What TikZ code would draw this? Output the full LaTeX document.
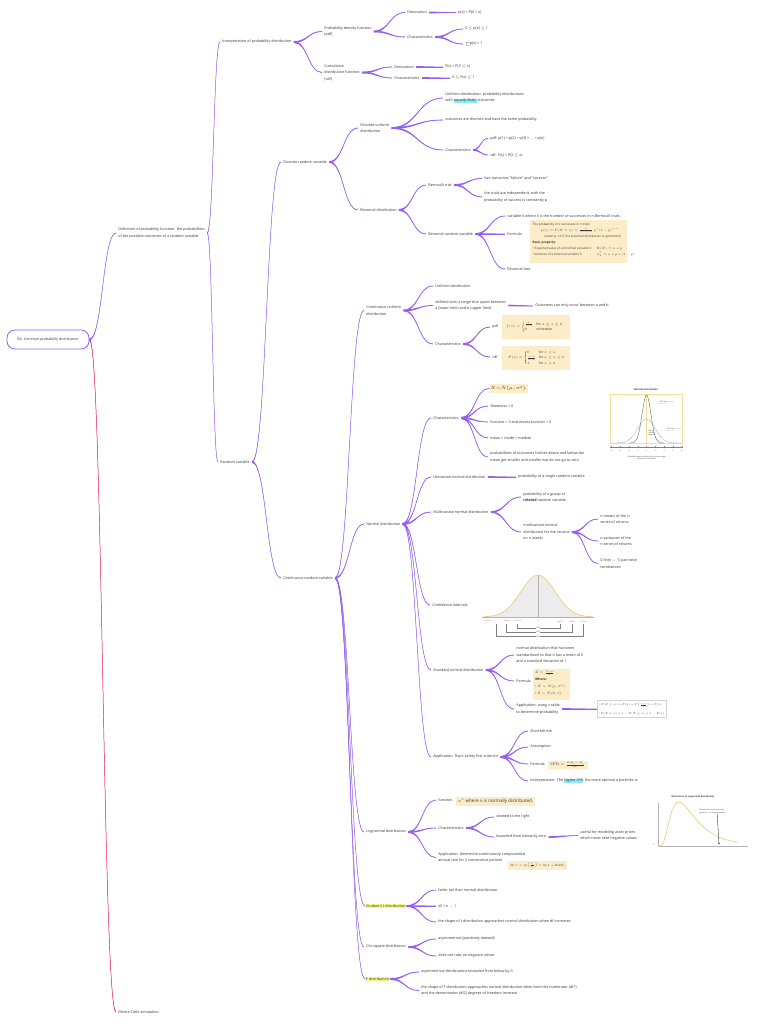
\RequirePackage{fix-cm}
\documentclass[tikz,border=0pt]{standalone}
\usepackage{amsmath}
\usepackage[no-math]{fontspec}
\setmainfont{Open Sans}
\usetikzlibrary{calc,arrows.meta}
\definecolor{brc}{RGB}{150,95,240}
\definecolor{brred}{RGB}{225,30,85}
\definecolor{txt}{RGB}{55,55,55}
\definecolor{beige}{RGB}{253,236,200}
\definecolor{hlcyan}{RGB}{140,235,250}
\definecolor{hlyel}{RGB}{248,248,130}
\definecolor{curveor}{RGB}{240,200,110}
\definecolor{figy}{RGB}{245,225,150}
\newcommand\fs{\fontsize{3.7}{6.4}\selectfont}
\newcommand\hlc[1]{{\setlength{\fboxsep}{0.4pt}\colorbox{hlcyan}{#1}}}
\newcommand\brch[3][brc]{%
 \fill[#1] let \p1=(#2.east), \p2=(#3.west), \p3=($(\p1)!0.5!(\p2)$) in
  (\x1,\y1+0.9pt) .. controls (\x3,\y1+0.9pt) and (\x3,\y2+0.3pt) .. (\x2,\y2+0.3pt)
  -- (\x2,\y2-0.3pt) .. controls (\x3,\y2-0.3pt) and (\x3,\y1-0.9pt) .. (\x1,\y1-0.9pt) -- cycle;
 \draw[#1,line width=0.45pt] let \p1=(#2.east), \p2=(#3.west), \p3=($(\p1)!0.5!(\p2)$) in
  (\p1) .. controls (\x3,\y1) and (\x3,\y2) .. (\p2);}
\begin{document}
\begin{tikzpicture}[x=1pt,y=-1pt,
 t/.style={anchor=west,inner xsep=2.2pt,inner ysep=0.6pt,align=left,font=\fs,text=txt},
 fb/.style={fill=beige,draw=none,anchor=north west,inner sep=0pt},
 fig/.style={font=\fontsize{1.8}{2.2}\selectfont,text=txt,inner sep=0pt}]
\fill[white] (0,0) rectangle (768,1024);
\useasboundingbox (0,0) rectangle (768,1024);

% ---------- nodes ----------
\node[draw=brc,line width=0.8pt,rounded corners=8pt,minimum width=82pt,minimum height=19pt,font=\fontsize{3.6}{4}\selectfont,text=txt] (root) at (48,339.5) {R4: Common probability distribution};
\node[t] (def) at (116,233) {Definition of probability function: the probabilities\\of the possible outcomes of a random variable};
\node[t] (mc) at (116,1012) {Monte Carlo simulation};
\node[t] (interp) at (220,42) {Interpretation of probability distribution};
\node[t] (rv) at (218,462) {Random variable};

\node[t] (pdf) at (322,31.5) {Probability density function\\(pdf)};
\node[t] (cdf) at (322,72.5) {Cumulative\\distribution function\\(cdf)};
\node[t] (pdfden) at (405,12.5) {Denotation};
\node[t] (pdfdenv) at (456,12.5) {p(x) = P(X = x)};
\node[t] (pdfchar) at (405,37) {Characteristics};
\node[t] (pdfc1) at (463,29) {0 $\le$ p(x) $\le$ 1};
\node[t] (pdfc2) at (463,44) {$\sum$p(x) = 1};
\node[t] (cdfden) at (392,67) {Denotation};
\node[t] (cdfdenv) at (443,67) {F(x) = P(X $\le$ x)};
\node[t] (cdfchar) at (392,78) {Characteristics};
\node[t] (cdfc1) at (450,78) {0 $\le$ F(x) $\le$ 1};

\node[t] (drv) at (281,162) {Discrete random variable};
\node[t] (dud) at (358,128) {Discrete uniform\\distribution};
\node[t] (binom) at (358,210) {Binomial distribution};
\node[t] (dud1) at (443,98) {Uniform distribution: probability distributions\\with \hlc{equally likely} outcomes};
\node[t] (dud2) at (443,120) {outcomes are discrete and have the same probability};
\node[t] (dudch) at (443,150) {Characteristics};
\node[t] (dudpdf) at (488,138.5) {pdf: p(1) = p(2) = p(3) = ... = p(n)};
\node[t] (dudcdf) at (488,155) {cdf: F(x) = P(X $\le$ x)};
\node[t] (bern) at (426,185) {Bernoulli trial};
\node[t] (bern1) at (482,178.5) {two outcomes "failure" and "success"};
\node[t] (bern2) at (482,197) {the trials are independent, with the\\probability of success is constantly p};
\node[t] (brv) at (426,234) {Binomial random variable};
\node[t] (brv1) at (505,216) {variable X where X is the number of successes in n Bernoulli trials};
\node[t] (brvf) at (505,234) {Formula};
\node[t] (brvt) at (505,269) {Binomial tree};
\node[fb,minimum width=97pt,minimum height=43pt] (binbox) at (530,220) {};
\node[anchor=north west,inner sep=0pt,align=left,font=\fontsize{3.1}{6}\selectfont,text=txt] (bintxt) at (532.5,222.5) {The probability of x successes in n trials:\\
\hspace*{8pt}$p(x)=P(X=x)=\frac{n!}{(n-x)!\,x!}\,p^x(1-p)^{n-x}$\\
\hspace*{12pt}(when p = 0.5, the binomial distribution is symmetric)\\
\textbf{Basic property:}\\
\makebox[64pt][l]{• Expected value of a binomial variable X:}$E(X)=n*p$\\
\makebox[64pt][l]{• Variance of a binomial variable X:}$\sigma_X^2=n*p*(1-p)$};

\node[t] (crv) at (281,578) {Continuous random variable};
\node[t] (cud) at (364,310.5) {Continuous uniform\\distribution};
\node[t] (cud1) at (433,286) {Uniform distribution};
\node[t] (cud2) at (433,305.5) {defined over a range that spans between\\a (lower limit) and b (upper limit)};
\node[t] (cud2a) at (533,306) {Outcomes can only occur between a and b};
\node[t] (cudch) at (433,344) {Characteristics};
\node[t] (cudpdf) at (490,327) {pdf};
\node[t] (cudcdf) at (490,357) {cdf};
\node[fb,minimum width=68pt,minimum height=24pt] (cupbox) at (502,315) {};
\node[anchor=west,inner sep=0pt,font=\fontsize{3.4}{4.2}\selectfont,text=txt] (cuptxt) at (506,327) {$f(x)=\begin{cases}\frac{1}{b-a} & \text{for } a\le x\le b\\ 0 & \text{otherwise}\end{cases}$};
\node[fb,minimum width=68pt,minimum height=24pt] (cucbox) at (502,346) {};
\node[anchor=west,inner sep=0pt,font=\fontsize{3.3}{4}\selectfont,text=txt] (cuctxt) at (508,358) {$F(x)=\begin{cases}0 & \text{for } x<a\\ \frac{x-a}{b-a} & \text{for } a\le x\le b\\ 1 & \text{for } x>b\end{cases}$};

\node[t] (normal) at (364,524) {Normal distribution};
\node[t] (nch) at (431,418) {Characteristics};
\node[anchor=west,fill=beige,inner xsep=1.5pt,inner ysep=1.5pt,font=\fontsize{4.6}{6}\selectfont,text=txt] (nch0) at (489,388.5) {$X{\sim}N(\mu,\sigma^2)$.};
\node[t] (nch1) at (488,406) {Skewness = 0};
\node[t] (nch2) at (488,422) {Kurtosis = 3 and excess kurtosis = 0};
\node[t] (nch3) at (488,438) {mean = mode = median};
\node[t] (nch4) at (488,457) {probabilities of outcomes further above and below the\\mean get smaller and smaller but do not go to zero};
\node[t] (uni) at (431,477) {Univariate normal distribution};
\node[t] (uni1) at (516,477) {probability of a single random variable};
\node[t] (multi) at (431,512) {Multivariate normal distribution};
\node[t] (multi1) at (521,497) {probability of a group of\\\textbf{related} random variable};
\node[t] (multi2) at (521,532) {multivariate normal\\distribution for the returns\\on n assets};
\node[t] (m21) at (598,519) {n means of the n\\series of returns};
\node[t] (m22) at (598,541) {n variances of the\\n series of returns};
\node[t] (m23) at (598,563.5) {0.5n(n $-$ 1) pair-wise\\correlations};
\node[t] (ci) at (430,605) {Confidence intervals};
\node[t] (snd) at (431,670) {Standard normal distribution};
\node[t] (snd1) at (514,655) {normal distribution that has been\\standardized so that it has a mean of 0\\and a standard deviation of 1};
\node[t] (sndf) at (514,681) {Formula};
\node[t] (snda) at (514,709) {Application: using z-table\\to determine probability};
\node[fb,minimum width=37pt,minimum height=31pt] (zbox) at (533,669) {};
\node[anchor=north west,inner sep=0pt,align=left,font=\fontsize{3.3}{7}\selectfont,text=txt] (ztxt) at (535,670.5) {$Z=\frac{X-\mu}{\sigma}$\\\textbf{Where:}\\• $X\sim N(\mu,\sigma^2)$\\• $Z\sim N(0,1)$};
\node[draw=gray!35,line width=0.3pt,fill=white,anchor=west,align=left,inner sep=2pt,font=\fontsize{2.7}{9}\selectfont,text=txt] (snda1) at (597,709) {• $P(X\le x)=F(x)=F\!\left(\frac{x-\mu}{\sigma}\right)=F(z)$\\• $P(X>x)=1-P(X\le x)=1-F(x)$};
\node[t] (roy) at (431,757) {Application: Roy's safety first criterion};
\node[t] (roy1) at (528,731) {Shortfall risk};
\node[t] (roy2) at (528,747) {Assumption};
\node[t] (roy3) at (528,764) {Formula};
\node[anchor=west,fill=beige,inner xsep=2pt,inner ysep=1.2pt,font=\fontsize{3.5}{4}\selectfont,text=txt] (sfrbox) at (548,765) {$\mathrm{SFR}=\frac{E(R_P)-R_L}{\sigma_P}$};
\node[t] (roy4) at (528,781) {Interpretation: The \hlc{higher SFR}, the more optimal a portfolio is};

\node[t] (logn) at (364,832) {Lognormal distribution};
\node[t] (lf) at (436,800) {function};
\node[anchor=west,fill=beige,inner xsep=2pt,inner ysep=2pt,font=\fontsize{4.6}{5}\selectfont,text=txt] (exbox) at (456,801.5) {$e^x$ where x is normally distributed.};
\node[t] (lch) at (436,828) {Characteristics};
\node[t] (lch1) at (494,817) {skewed to the right};
\node[t] (lch2) at (494,837) {bounded from below by zero};
\node[t] (lch2a) at (578,835.5) {useful for modeling asset prices\\which never take negative values};
\node[t] (lapp) at (436,857.5) {Application: determine continuously compounded\\annual rate for 2 consecutive periods};
\node[anchor=west,fill=beige,inner xsep=2pt,inner ysep=1.5pt,font=\fontsize{3}{4}\selectfont,text=txt] (rccbox) at (508,865.5) {$R_{CC}=\ln\!\left(\frac{S_1}{S_0}\right)=\ln(1+\mathrm{EAR})$};

\node[t,fill=hlyel,inner xsep=1pt] (stud) at (365,906) {Student's t distribution};
\node[t] (st1) at (436,890) {fatter tail than normal distribution};
\node[t] (st2) at (436,906) {df = n $-$ 1};
\node[t] (st3) at (436,922) {the shape of t distribution approaches normal distribution when df increases};
\node[t] (chi) at (364,947) {Chi-square distribution};
\node[t] (chi1) at (436,939) {asymmetrical (positively skewed)};
\node[t] (chi2) at (436,956) {does not take on negative values};
\node[t,fill=hlyel,inner xsep=1pt] (fd) at (365,979) {F distribution};
\node[t] (fd1) at (419,972) {asymmetrical distributions bounded from below by 0};
\node[t] (fd2) at (419,990.5) {the shape of F distribution approaches normal distribution when both the numerator (df1)\\and the denominator (df2) degrees of freedom increase};

% ---------- branches ----------
\brch{root}{def}
\brch[brred]{root}{mc}
\brch{def}{interp}
\brch{def}{rv}
\brch{interp}{pdf}
\brch{interp}{cdf}
\brch{pdf}{pdfden}
\brch{pdf}{pdfchar}
\brch{pdfden}{pdfdenv}
\brch{pdfchar}{pdfc1}
\brch{pdfchar}{pdfc2}
\brch{cdf}{cdfden}
\brch{cdf}{cdfchar}
\brch{cdfden}{cdfdenv}
\brch{cdfchar}{cdfc1}
\brch{rv}{drv}
\brch{rv}{crv}
\brch{drv}{dud}
\brch{drv}{binom}
\brch{dud}{dud1}
\brch{dud}{dud2}
\brch{dud}{dudch}
\brch{dudch}{dudpdf}
\brch{dudch}{dudcdf}
\brch{binom}{bern}
\brch{binom}{brv}
\brch{bern}{bern1}
\brch{bern}{bern2}
\brch{brv}{brv1}
\brch{brv}{brvf}
\brch{brv}{brvt}
\brch{crv}{cud}
\brch{crv}{normal}
\brch{crv}{logn}
\brch{crv}{stud}
\brch{crv}{chi}
\brch{crv}{fd}
\brch{cud}{cud1}
\brch{cud}{cud2}
\brch{cud}{cudch}
\brch{cud2}{cud2a}
\brch{cudch}{cudpdf}
\brch{cudch}{cudcdf}
\brch{normal}{nch}
\brch{normal}{uni}
\brch{normal}{multi}
\brch{normal}{ci}
\brch{normal}{snd}
\brch{normal}{roy}
\brch{nch}{nch0}
\brch{nch}{nch1}
\brch{nch}{nch2}
\brch{nch}{nch3}
\brch{nch}{nch4}
\brch{uni}{uni1}
\brch{multi}{multi1}
\brch{multi}{multi2}
\brch{multi2}{m21}
\brch{multi2}{m22}
\brch{multi2}{m23}
\brch{snd}{snd1}
\brch{snd}{sndf}
\brch{snd}{snda}
\brch{snda}{snda1}
\brch{roy}{roy1}
\brch{roy}{roy2}
\brch{roy}{roy3}
\brch{roy}{roy4}
\brch{logn}{lf}
\brch{logn}{lch}
\brch{logn}{lapp}
\brch{lch}{lch1}
\brch{lch}{lch2}
\brch{lch2}{lch2a}
\brch{stud}{st1}
\brch{stud}{st2}
\brch{stud}{st3}
\brch{chi}{chi1}
\brch{chi}{chi2}
\brch{fd}{fd1}
\brch{fd}{fd2}

% ---------- normal distribution figure ----------
\node[fig,font=\bfseries\fontsize{2.4}{3}\selectfont] (ndtitle) at (646,390) {Normal distribution};
\draw[figy,line width=0.4pt] (610,394) rectangle (682,443);
\draw[figy,line width=0.3pt] (646.5,394) -- (646.5,443);
\begin{scope}[shift={(646.5pt,-443pt)},x=4.4pt,y=120pt]
\draw[gray!70!black,line width=0.35pt] plot[domain=-4:4,samples=60,smooth] (\x,{exp(-0.5*(\x)*(\x))/2.5066});
\draw[gray,line width=0.35pt,dash pattern=on 1pt off 0.8pt] plot[domain=-8:8,samples=60,smooth] (\x,{exp(-0.125*(\x)*(\x))/5.0133});
\end{scope}
\draw[gray,line width=0.3pt] (610,447) -- (683,447);
\foreach \v in {-8,-6,...,8} {
  \draw[gray,line width=0.25pt] ({646.5+4.4*\v},446) -- ({646.5+4.4*\v},448);
  \node[fig] (ndtick\v) at ({646.5+4.4*\v},450.5) {\v};
}
\node[fig,align=center] (ndcap) at (646.5,457.5) {Probabilities gets smaller as the outcomes get\\further from the mean};
\node[fig,align=left] (ndl1) at (667,403) {PDF with $\mu=0$,\\$\sigma=1$};
\node[fig,align=left] (ndl2) at (674,430) {PDF with $\mu=0$,\\$\sigma=2$};
\node[fig,align=center] (ndl3) at (651,433) {Mean\\= Mode\\= Median};

% ---------- confidence interval figure ----------
\begin{scope}[shift={(538pt,-617pt)},x=17pt,y=105pt]
\fill[gray!15] plot[domain=-3.2:3.2,samples=60,smooth] (\x,{exp(-0.5*(\x)*(\x))/2.5066}) -- cycle;
\draw[curveor,line width=0.6pt] plot[domain=-3.2:3.2,samples=60,smooth] (\x,{exp(-0.5*(\x)*(\x))/2.5066});
\draw[gray!60,line width=0.3pt] (0,0) -- (0,0.3989);
\draw[gray!60,line width=0.3pt] (-3.3,0) -- (3.3,0);
\end{scope}
\node[fig] (cil1) at (487,621.5) {$-2.58\sigma$};
\node[fig] (cil2) at (506,621.5) {$-1.96\sigma$};
\node[fig] (cil3) at (517,621.5) {$-1.65\sigma$};
\node[fig] (cil4) at (538,621.5) {$\mu$};
\node[fig] (cil5) at (560,621.5) {$1.65\sigma$};
\node[fig] (cil6) at (572,621.5) {$1.96\sigma$};
\node[fig] (cil7) at (583,621.5) {$2.58\sigma$};
\draw[gray,line width=0.3pt] (517,624) -- (517,628) -- (560,628) -- (560,624);
\draw[gray,line width=0.3pt] (506,624) -- (506,632) -- (572,632) -- (572,624);
\draw[gray,line width=0.3pt] (496,624) -- (496,636.5) -- (583,636.5) -- (583,624);
\node[fig,fill=white,inner sep=0.3pt] (ci90) at (538,628) {90\%};
\node[fig,fill=white,inner sep=0.3pt] (ci95) at (538,632) {95\%};
\node[fig,fill=white,inner sep=0.3pt] (ci99) at (538,636.5) {99\%};

% ---------- lognormal figure ----------
\node[fig,font=\bfseries\fontsize{2.3}{3}\selectfont] (lgt) at (693,797) {Illustration of Lognormal distribution};
\draw[gray!60,line width=0.35pt] (658,803) -- (658,846) -- (748,846);
\node[fig] (lg0) at (654,845) {0};
\begin{scope}[shift={(658pt,-846pt)},x=30pt,y=55pt]
\draw[curveor,line width=0.6pt] (0,0) -- plot[domain=0.04:2.65,samples=80,smooth] (\x,{exp(-ln(\x)*ln(\x)/0.72)/(\x*1.504)});
\end{scope}
\node[fig,align=left,anchor=west] (lgann) at (699,811.5) {Positive extreme values in the\\upper tail $\rightarrow$ Positively skewed};
\coordinate (lgtip) at (719,844.5);
\draw[black,line width=0.3pt,-{Stealth[length=1.5pt,width=1.2pt]}] ([xshift=5pt,yshift=-0.5pt]lgann.south) -- (lgtip);
\end{tikzpicture}
\end{document}
